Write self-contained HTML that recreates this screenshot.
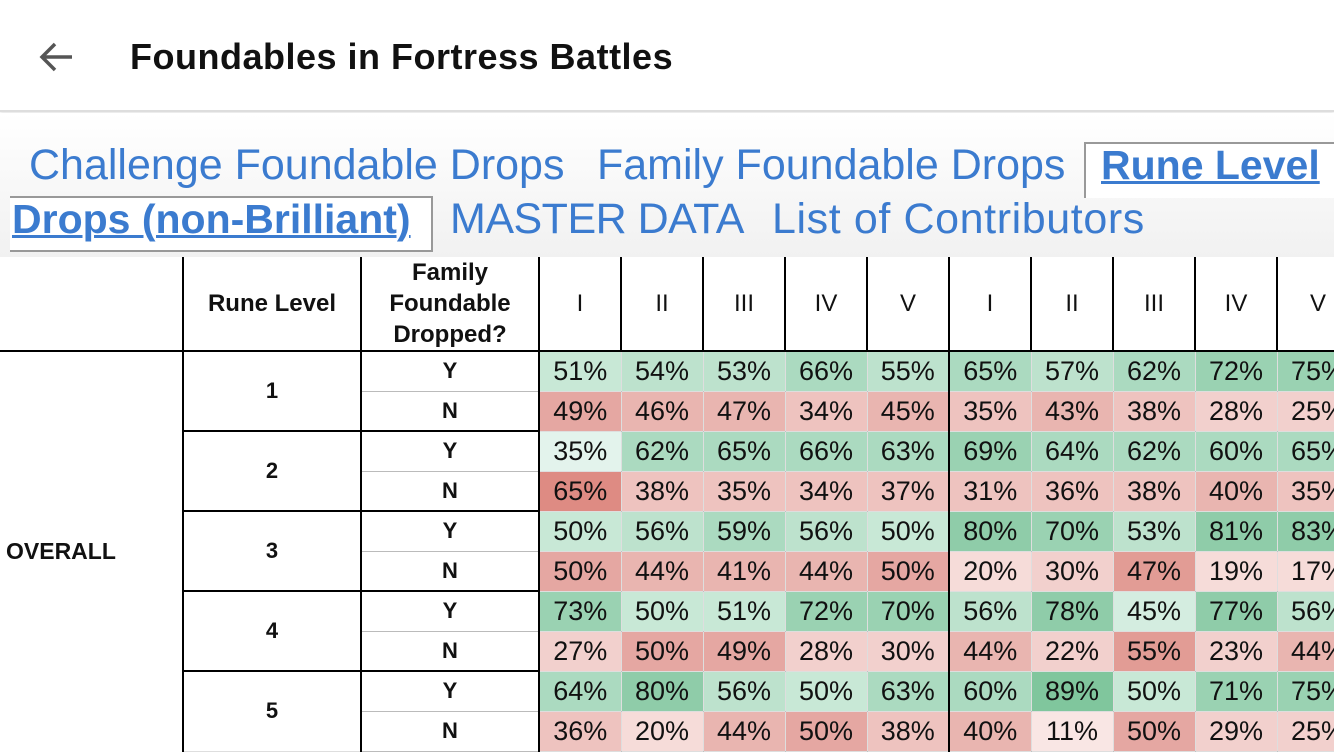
<!DOCTYPE html>
<html><head><meta charset="utf-8"><style>
*{margin:0;padding:0;box-sizing:border-box}
body{width:1334px;height:750px;overflow:hidden;position:relative;background:#fff;font-family:"Liberation Sans",sans-serif}
.top{position:absolute;left:0;top:0;width:1334px;height:112px;background:#fff;border-bottom:2px solid #ddd;box-shadow:0 1px 3px rgba(0,0,0,.12)}
.title{position:absolute;left:130px;top:36px;font-size:36px;font-weight:bold;color:#111;white-space:nowrap;letter-spacing:0.5px}
.tabs{position:absolute;left:0;top:113px;width:1334px;height:144px;background:linear-gradient(#fff,#f1f1f1)}
.t{position:absolute;font-size:43px;color:#3b7bcf;white-space:nowrap;line-height:48px}
.a{font-weight:bold;text-decoration:underline;text-decoration-thickness:3px;font-size:41px}
.box{position:absolute;background:#fff;border:2px solid #999}
table{position:absolute;left:0;top:257px;border-collapse:collapse;table-layout:fixed;width:1359px}
td{height:40px;text-align:center;font-size:27px;color:#111;border:1px solid rgba(0,0,0,.13);overflow:hidden;white-space:nowrap;padding:0}
tr.h td{height:94px;border:2px solid #000;border-top:none;font-size:24px}
.b{font-weight:bold;font-size:23px}
td.c2{border-left:2px solid #000;border-right:2px solid #000;font-weight:bold;font-size:22px}
td.c3{border-right:2px solid #000;font-weight:bold;font-size:22px;border-bottom:1px solid #bbb}
tr.g td.c2,tr.g td.c3{border-top:2px solid #000}
td.k{border-left:2px solid #000}
td.c1{border:none;border-top:2px solid #000;text-align:left;padding-left:6px;font-weight:bold;font-size:23px}
</style></head><body>
<div class="top">
<svg style="position:absolute;left:38px;top:40px" width="36" height="34" viewBox="0 0 36 34"><path d="M34 17H5M17 4L4 17l13 13" stroke="#555" stroke-width="3.5" fill="none"/></svg>
<div class="title">Foundables in Fortress Battles</div>
</div>
<div class="tabs"></div>
<div class="box" style="left:1084px;top:142px;width:260px;height:56px;border-bottom:none"></div>
<div class="box" style="left:10px;top:196px;width:423px;height:56px;border-left:none"></div>
<div class="t" style="left:29px;top:141px">Challenge Foundable Drops</div>
<div class="t" style="left:597px;top:141px">Family Foundable Drops</div>
<div class="t a" style="left:1101px;top:141px">Rune Level</div>
<div class="t a" style="left:12px;top:195px">Drops (non-Brilliant)</div>
<div class="t" style="left:450px;top:195px;letter-spacing:-0.5px">MASTER DATA</div>
<div class="t" style="left:772px;top:195px;letter-spacing:0.6px">List of Contributors</div>
<table>
<colgroup><col style="width:183px"><col style="width:178px"><col style="width:178px"><col style="width:82px"><col style="width:82px"><col style="width:82px"><col style="width:82px"><col style="width:82px"><col style="width:82px"><col style="width:82px"><col style="width:82px"><col style="width:82px"><col style="width:82px"></colgroup>
<tr class="h"><td style="border-left:none"></td><td class="b">Rune Level</td><td class="b" style="line-height:31px">Family<br>Foundable<br>Dropped?</td><td>I</td><td>II</td><td>III</td><td>IV</td><td>V</td><td>I</td><td>II</td><td>III</td><td>IV</td><td>V</td></tr>
<tr class="g"><td class="c1" rowspan="10">OVERALL</td><td class="c2" rowspan="2">1</td><td class="c3">Y</td><td style="background:#c8e8d6">51%</td><td style="background:#bde2cd">54%</td><td style="background:#bde2cd">53%</td><td style="background:#abdac0">66%</td><td style="background:#bde2cd">55%</td><td class="k" style="background:#abdac0">65%</td><td style="background:#bde2cd">57%</td><td style="background:#abdac0">62%</td><td style="background:#9ad2b2">72%</td><td style="background:#9ad2b2">75%</td></tr>
<tr><td class="c3">N</td><td style="background:#e5a7a2">49%</td><td style="background:#e9b5b0">46%</td><td style="background:#e9b5b0">47%</td><td style="background:#eec3bf">34%</td><td style="background:#e9b5b0">45%</td><td class="k" style="background:#eec3bf">35%</td><td style="background:#e9b5b0">43%</td><td style="background:#eec3bf">38%</td><td style="background:#f2d0cd">28%</td><td style="background:#f2d0cd">25%</td></tr>
<tr class="g"><td class="c2" rowspan="2">2</td><td class="c3">Y</td><td style="background:#e3f3ec">35%</td><td style="background:#abdac0">62%</td><td style="background:#abdac0">65%</td><td style="background:#abdac0">66%</td><td style="background:#abdac0">63%</td><td class="k" style="background:#9ad2b2">69%</td><td style="background:#abdac0">64%</td><td style="background:#abdac0">62%</td><td style="background:#abdac0">60%</td><td style="background:#abdac0">65%</td></tr>
<tr><td class="c3">N</td><td style="background:#de8b83">65%</td><td style="background:#eec3bf">38%</td><td style="background:#eec3bf">35%</td><td style="background:#eec3bf">34%</td><td style="background:#eec3bf">37%</td><td class="k" style="background:#eec3bf">31%</td><td style="background:#eec3bf">36%</td><td style="background:#eec3bf">38%</td><td style="background:#e9b5b0">40%</td><td style="background:#eec3bf">35%</td></tr>
<tr class="g"><td class="c2" rowspan="2">3</td><td class="c3">Y</td><td style="background:#c8e8d6">50%</td><td style="background:#bde2cd">56%</td><td style="background:#abdac0">59%</td><td style="background:#bde2cd">56%</td><td style="background:#c8e8d6">50%</td><td class="k" style="background:#8fcca9">80%</td><td style="background:#9ad2b2">70%</td><td style="background:#bde2cd">53%</td><td style="background:#8fcca9">81%</td><td style="background:#8fcca9">83%</td></tr>
<tr><td class="c3">N</td><td style="background:#e5a7a2">50%</td><td style="background:#e9b5b0">44%</td><td style="background:#e9b5b0">41%</td><td style="background:#e9b5b0">44%</td><td style="background:#e5a7a2">50%</td><td class="k" style="background:#f6dcd9">20%</td><td style="background:#f2d0cd">30%</td><td style="background:#e29c95">47%</td><td style="background:#f6dcd9">19%</td><td style="background:#f6dcd9">17%</td></tr>
<tr class="g"><td class="c2" rowspan="2">4</td><td class="c3">Y</td><td style="background:#9ad2b2">73%</td><td style="background:#c8e8d6">50%</td><td style="background:#c8e8d6">51%</td><td style="background:#9ad2b2">72%</td><td style="background:#9ad2b2">70%</td><td class="k" style="background:#bde2cd">56%</td><td style="background:#8fcca9">78%</td><td style="background:#d4ede0">45%</td><td style="background:#8fcca9">77%</td><td style="background:#bde2cd">56%</td></tr>
<tr><td class="c3">N</td><td style="background:#f2d0cd">27%</td><td style="background:#e5a7a2">50%</td><td style="background:#e5a7a2">49%</td><td style="background:#f2d0cd">28%</td><td style="background:#f2d0cd">30%</td><td class="k" style="background:#e9b5b0">44%</td><td style="background:#f2d0cd">22%</td><td style="background:#e29c95">55%</td><td style="background:#f2d0cd">23%</td><td style="background:#e9b5b0">44%</td></tr>
<tr class="g"><td class="c2" rowspan="2">5</td><td class="c3">Y</td><td style="background:#abdac0">64%</td><td style="background:#8fcca9">80%</td><td style="background:#bde2cd">56%</td><td style="background:#c8e8d6">50%</td><td style="background:#abdac0">63%</td><td class="k" style="background:#abdac0">60%</td><td style="background:#80c69d">89%</td><td style="background:#c8e8d6">50%</td><td style="background:#9ad2b2">71%</td><td style="background:#9ad2b2">75%</td></tr>
<tr><td class="c3">N</td><td style="background:#eec3bf">36%</td><td style="background:#f6dcd9">20%</td><td style="background:#e9b5b0">44%</td><td style="background:#e5a7a2">50%</td><td style="background:#eec3bf">38%</td><td class="k" style="background:#e9b5b0">40%</td><td style="background:#f9e6e4">11%</td><td style="background:#e5a7a2">50%</td><td style="background:#f2d0cd">29%</td><td style="background:#f2d0cd">25%</td></tr>
</table>
</body></html>
